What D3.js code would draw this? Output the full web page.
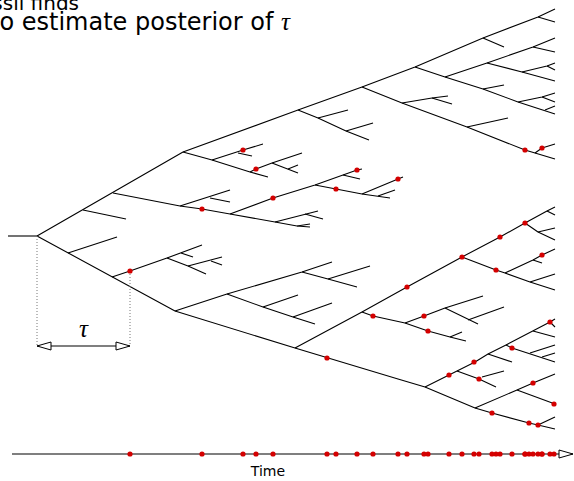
<!DOCTYPE html>
<html>
<head>
<meta charset="utf-8">
<script src="https://cdn.jsdelivr.net/npm/d3@7"></script>
<style>
  body { margin: 0; background: #fff; }
  svg { display: block; }
</style>
</head>
<body>
<div id="chart"></div>
<script>
// time runs left to right from the root (t = 0); y is the lineage position
const stem = [[[-29, 236], [0, 236]]];

const upperClade = [
  [[0, 236], [146, 152], [261, 110], [325, 87], [378, 67], [446, 38], [501, 17], [518, 9]],
  [[46, 210], [89, 219]],
  [[76, 193], [143, 206], [165, 209], [193, 214], [238, 222], [260, 226], [273, 227]],
  [[143, 206], [193, 190]],
  [[173, 198], [193, 202]],
  [[238, 222], [281, 211]],
  [[268, 214], [286, 219]],
  [[260, 226], [273, 224]],
  [[193, 214], [236, 198], [278, 185], [320, 170], [325, 169]],
  [[306, 175], [323, 179]],
  [[278, 185], [299, 189], [325, 194], [353, 198]],
  [[325, 194], [361, 179], [366, 177]],
  [[341, 196], [358, 190]],
  [[146, 152], [175, 160], [213, 172], [231, 177]],
  [[175, 160], [206, 150], [226, 144]],
  [[201, 153], [215, 156]],
  [[213, 172], [219, 169], [235, 163], [265, 153]],
  [[235, 163], [261, 173]],
  [[251, 169], [261, 165]],
  [[261, 110], [281, 118], [309, 131], [332, 140]],
  [[281, 118], [311, 110]],
  [[309, 131], [336, 123]],
  [[325, 87], [365, 103], [430, 127], [488, 150], [498, 153], [518, 159]],
  [[365, 103], [395, 98], [411, 96]],
  [[395, 98], [415, 104]],
  [[430, 127], [471, 118]],
  [[498, 153], [505, 148], [518, 144]],
  [[378, 67], [408, 77], [446, 89], [481, 102], [518, 114]],
  [[408, 77], [450, 63], [496, 47], [518, 38]],
  [[496, 47], [518, 52]],
  [[450, 63], [485, 72], [518, 81]],
  [[485, 72], [510, 66], [518, 63]],
  [[510, 66], [518, 70]],
  [[446, 89], [467, 85]],
  [[481, 102], [505, 97], [518, 93]],
  [[505, 97], [518, 102]],
  [[508, 110], [518, 106]],
  [[446, 38], [467, 47]],
  [[501, 17], [518, 22]]
];

const lowerClade = [
  [[0, 236], [138, 311], [258, 348], [361, 379], [388, 387], [438, 408], [455, 413], [492, 423], [501, 425], [518, 429]],
  [[31, 253], [80, 237]],
  [[75, 277], [93, 271], [130, 258], [165, 245]],
  [[144, 253], [156, 257]],
  [[130, 258], [151, 266], [169, 274]],
  [[151, 266], [185, 257]],
  [[174, 261], [185, 265]],
  [[138, 311], [190, 294], [265, 272], [295, 262]],
  [[190, 294], [226, 307], [256, 317], [278, 324]],
  [[226, 307], [261, 295]],
  [[256, 317], [295, 303]],
  [[265, 272], [291, 279], [320, 287]],
  [[291, 279], [333, 266]],
  [[258, 348], [325, 312], [370, 287], [425, 257], [463, 237], [488, 223], [510, 211], [518, 207]],
  [[510, 211], [518, 215]],
  [[488, 223], [501, 232], [518, 240]],
  [[501, 232], [518, 228]],
  [[425, 257], [459, 270], [468, 273], [493, 282], [518, 290]],
  [[468, 273], [496, 260], [505, 255], [518, 249]],
  [[496, 260], [505, 263]],
  [[493, 282], [518, 274]],
  [[325, 312], [336, 316], [368, 323], [387, 316], [408, 308], [446, 296]],
  [[408, 308], [441, 324]],
  [[431, 320], [467, 307]],
  [[368, 323], [391, 331], [413, 337], [429, 341]],
  [[413, 337], [425, 332]],
  [[501, 425], [518, 417]],
  [[438, 408], [480, 390], [496, 383], [518, 374]],
  [[480, 390], [518, 404]],
  [[388, 387], [412, 375], [420, 371], [438, 362], [451, 354], [469, 345], [513, 322], [518, 319]],
  [[420, 371], [442, 379], [459, 387]],
  [[445, 377], [467, 371]],
  [[451, 354], [475, 362]],
  [[469, 345], [475, 348], [518, 362]],
  [[493, 353], [518, 345]],
  [[505, 357], [518, 353]],
  [[496, 331], [518, 337]],
  [[513, 322], [518, 327]]
];

const fossils = [
  [165, 209], [206, 150], [219, 169], [236, 198], [299, 189], [320, 170], [361, 179], [488, 150], [505, 148],
  [93, 271], [290, 358], [336, 316], [370, 287], [425, 257], [459, 270], [463, 237], [488, 223], [505, 255],
  [387, 316], [391, 331], [412, 375], [437, 362], [442, 379], [475, 348], [513, 322], [496, 383], [517, 404],
  [455, 413], [492, 423], [501, 425]
];

const tauSpan = [0, 93];
const timeRange = [-25, 536];
const titleLines = ["Use fossil finds", "to estimate posterior of "];
const tauSymbol = "\u03C4";
const axisLabel = "Time";

const width = 574;
const height = 481;
const axisY = 454;
const tauArrowY = 346;
const sans = "'DejaVu Sans', sans-serif";
const serif = "'Liberation Serif', serif";

const x = d3.scaleLinear().domain([0, 518]).range([37, 555]);
const y = d3.scaleLinear().domain([0, 481]).range([0, 481]);

const line = d3.line()
  .x((d) => x(d[0]))
  .y((d) => y(d[1]));

const svg = d3.select("#chart")
  .append("svg")
  .attr("width", width)
  .attr("height", height)
  .attr("viewBox", [0, 0, width, height]);

svg.append("defs")
  .append("marker")
  .attr("id", "open-arrow")
  .attr("viewBox", "-1 -6 16 12")
  .attr("refX", 14)
  .attr("refY", 0)
  .attr("markerWidth", 16)
  .attr("markerHeight", 12)
  .attr("markerUnits", "userSpaceOnUse")
  .attr("orient", "auto-start-reverse")
  .append("path")
  .attr("d", "M0,-4L14,0L0,4Z")
  .attr("fill", "#fff")
  .attr("stroke", "#000")
  .attr("stroke-width", 1);

// title (clipped at the left edge like the slide it comes from)
const title = svg.append("g")
  .style("font-family", sans)
  .style("font-size", "24px")
  .attr("text-anchor", "end");

title.append("text")
  .attr("x", 79)
  .attr("y", 10)
  .style("font-size", "20px")
  .text(titleLines[0]);

title.append("text")
  .attr("x", 290)
  .attr("y", 30)
  .call((t) => t.append("tspan").text(titleLines[1]))
  .call((t) =>
    t.append("tspan")
      .style("font-family", serif)
      .style("font-style", "italic")
      .style("font-size", "25px")
      .text(tauSymbol)
  );

// tree
svg.append("g")
  .attr("fill", "none")
  .attr("stroke", "#000")
  .attr("stroke-width", 1.1)
  .attr("stroke-linejoin", "round")
  .selectAll("path")
  .data([...stem, ...upperClade, ...lowerClade])
  .join("path")
  .attr("d", line);

// tau annotation
const rootY = stem[0][1][1];
const firstFossil = fossils.find((d) => d[0] === tauSpan[1]);
svg.append("g")
  .attr("stroke", "#777")
  .attr("stroke-width", 1)
  .attr("stroke-dasharray", "1,2")
  .selectAll("line")
  .data([[tauSpan[0], rootY], [tauSpan[1], firstFossil[1]]])
  .join("line")
  .attr("x1", (d) => x(d[0]))
  .attr("x2", (d) => x(d[0]))
  .attr("y1", (d) => y(d[1]))
  .attr("y2", tauArrowY);

svg.append("line")
  .attr("x1", x(tauSpan[0]))
  .attr("x2", x(tauSpan[1]))
  .attr("y1", tauArrowY)
  .attr("y2", tauArrowY)
  .attr("stroke", "#000")
  .attr("stroke-width", 1.1)
  .attr("marker-start", "url(#open-arrow)")
  .attr("marker-end", "url(#open-arrow)");

svg.append("text")
  .attr("x", (x(tauSpan[0]) + x(tauSpan[1])) / 2)
  .attr("y", 337)
  .attr("text-anchor", "middle")
  .style("font-size", "25px")
  .style("font-family", serif)
  .style("font-style", "italic")
  .text(tauSymbol);

// time axis with the fossil ages
svg.append("line")
  .attr("x1", x(timeRange[0]))
  .attr("x2", x(timeRange[1]))
  .attr("y1", axisY)
  .attr("y2", axisY)
  .attr("stroke", "#000")
  .attr("stroke-width", 1.1)
  .attr("marker-end", "url(#open-arrow)");

svg.append("text")
  .attr("x", 268)
  .attr("y", 476)
  .attr("text-anchor", "middle")
  .style("font-family", sans)
  .style("font-size", "14px")
  .text(axisLabel);

// fossil finds
const dot = (g, cy) =>
  g.selectAll("circle")
    .data(fossils)
    .join("circle")
    .attr("cx", (d) => x(d[0]))
    .attr("cy", cy)
    .attr("r", 2.6)
    .attr("fill", "#d40000");

svg.append("g").call((g) => dot(g, (d) => y(d[1])));
svg.append("g").call((g) => dot(g, axisY));
</script>
</body>
</html>
